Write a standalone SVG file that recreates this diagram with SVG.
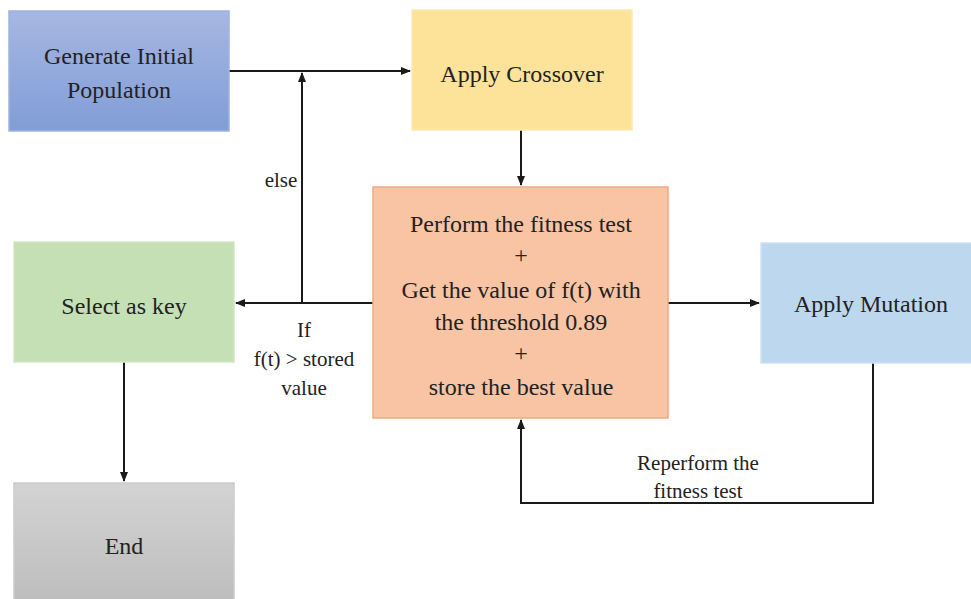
<svg xmlns="http://www.w3.org/2000/svg" width="971" height="599" viewBox="0 0 971 599">
  <defs>
    <linearGradient id="gBlue" x1="0" y1="0" x2="0" y2="1">
      <stop offset="0" stop-color="#a6b7e2"/>
      <stop offset="1" stop-color="#819dd7"/>
    </linearGradient>
    <linearGradient id="gGray" x1="0" y1="0" x2="0" y2="1">
      <stop offset="0" stop-color="#d3d3d3"/>
      <stop offset="1" stop-color="#bdbdbd"/>
    </linearGradient>
    <marker id="arr" viewBox="0 0 10 10" refX="9" refY="5" markerWidth="5" markerHeight="5" orient="auto-start-reverse">
      <path d="M0,1 L10,5 L0,9 z" fill="#1a1a1a"/>
    </marker>
    <style>
      .node { stroke-width: 1.5; }
      .t { font-family: 'Liberation Serif', 'DejaVu Serif', serif; font-size: 24px; fill: #222; text-anchor: middle; }
      .lbl { font-family: 'Liberation Serif', 'DejaVu Serif', serif; font-size: 21px; fill: #222; text-anchor: middle; }
      .conn { fill: none; stroke: #1a1a1a; stroke-width: 2; }
    </style>
  </defs>
  <rect width="971" height="599" fill="#ffffff"/>

  <g id="connectors">
    <path class="conn" d="M229,71 H410" marker-end="url(#arr)"/>
    <path class="conn" d="M302,303 V73" marker-end="url(#arr)"/>
    <path class="conn" d="M373,303 H236" marker-end="url(#arr)"/>
    <path class="conn" d="M521,130 V185" marker-end="url(#arr)"/>
    <path class="conn" d="M668,303 H759" marker-end="url(#arr)"/>
    <path class="conn" d="M873,363 V503 H521 V420" marker-end="url(#arr)"/>
    <path class="conn" d="M124,362 V481" marker-end="url(#arr)"/>
    <text class="lbl" x="281" y="187">else</text>
    <text class="lbl" x="304" y="337">If</text>
    <text class="lbl" x="304" y="366">f(t) &gt; stored</text>
    <text class="lbl" x="304" y="395">value</text>
    <text class="lbl" x="698" y="470">Reperform the</text>
    <text class="lbl" x="698" y="498">fitness test</text>
  </g>

  <g id="generate">
    <rect class="node" x="9" y="11" width="220" height="120" fill="url(#gBlue)" stroke="#9fb3e0"/>
    <text class="t" x="119" y="64">Generate Initial</text>
    <text class="t" x="119" y="98">Population</text>
  </g>

  <g id="crossover">
    <rect class="node" x="412" y="10" width="220" height="120" fill="#fde39a" stroke="#fdeab0"/>
    <text class="t" x="522" y="82">Apply Crossover</text>
  </g>

  <g id="fitness">
    <rect class="node" x="373" y="187" width="295" height="231" fill="#f8c4a4" stroke="#f2a882"/>
    <text class="t" x="521" y="232">Perform the fitness test</text>
    <text class="t" x="521" y="263">+</text>
    <text class="t" x="521" y="298">Get the value of f(t) with</text>
    <text class="t" x="521" y="330">the threshold 0.89</text>
    <text class="t" x="521" y="361">+</text>
    <text class="t" x="521" y="395">store the best value</text>
  </g>

  <g id="select">
    <rect class="node" x="14" y="242" width="220" height="120" fill="#c5e0b4" stroke="#d3e8c6"/>
    <text class="t" x="124" y="314">Select as key</text>
  </g>

  <g id="mutation">
    <rect class="node" x="761" y="243" width="212" height="120" fill="#bdd7ee" stroke="#cfe1f3"/>
    <text class="t" x="871" y="312">Apply Mutation</text>
  </g>

  <g id="end">
    <rect class="node" x="14" y="483" width="220" height="118" fill="url(#gGray)" stroke="#cccccc"/>
    <text class="t" x="124" y="554">End</text>
  </g>
</svg>
